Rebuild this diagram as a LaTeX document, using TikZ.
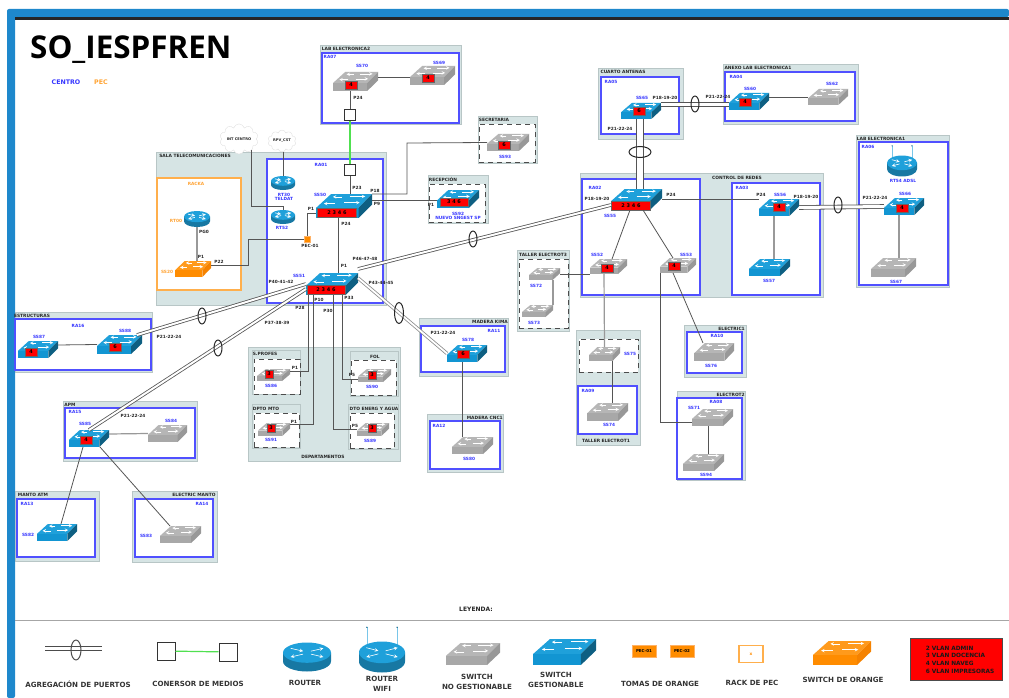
\documentclass[tikz,border=0pt]{standalone}
\usepackage{fontspec}
\setmainfont{DejaVu Sans}
\newfontfamily\titlefont{Open Sans}
\usepackage{tikz}
\usepackage{tkz-graph}
\usetikzlibrary{shapes,fit}
\definecolor{azulmarco}{HTML}{1E88CC}
\definecolor{zonafondo}{HTML}{D6E4E4}
\definecolor{zonaborde}{HTML}{B8C6C6}
\definecolor{rabord}{HTML}{5050FF}
\definecolor{azuleti}{HTML}{3535FF}
\definecolor{naranja}{HTML}{FF8C00}
\definecolor{cableg}{HTML}{555555}
\definecolor{verdemc}{HTML}{50E050}
\definecolor{swAtop}{HTML}{1FA0DA}
\definecolor{swAfront}{HTML}{1295D2}
\definecolor{swAside}{HTML}{0E5F82}
\definecolor{swGtop}{HTML}{B6B6B6}
\definecolor{swGfront}{HTML}{A8A8A8}
\definecolor{swGside}{HTML}{989898}
\definecolor{swOtop}{HTML}{FF9A1C}
\definecolor{swOfront}{HTML}{FF8C00}
\definecolor{swOside}{HTML}{F58200}
\tikzset{
  zona/.style={draw=zonaborde,fill=zonafondo,line width=.9pt,inner sep=0pt},
  rabox/.style={draw=rabord,fill=white,line width=1.3pt,inner sep=0pt},
  rackbox/.style={draw=naranja!70,fill=white,line width=1.2pt,inner sep=0pt},
  punteada/.style={draw=black!70,fill=white,line width=.9pt,dash pattern=on 5pt off 4pt,inner sep=0pt},
  zlab/.style={font=\fontsize{4.4}{5}\selectfont\bfseries,text=black!85,inner sep=0pt},
  eti/.style={font=\fontsize{4.3}{5}\selectfont\bfseries,text=azuleti,inner sep=0pt,align=center},
  etiO/.style={eti,text=naranja!80},
  pto/.style={font=\fontsize{4.3}{5}\selectfont\bfseries,text=black!85,inner sep=0pt},
  leg/.style={font=\fontsize{7.1}{10}\selectfont\bfseries,text=black!80,inner sep=0pt,align=center},
  vlan/.style={draw=black!60,fill=red,minimum width=12pt,minimum height=8.5pt,inner sep=0pt,
    font=\fontsize{5}{5}\selectfont\bfseries,text=black},
  swnode/.style={inner sep=0pt,outer sep=0pt},
  conv/.style={draw=black!80,fill=white,line width=1pt,minimum size=11pt,inner sep=0pt},
  ovalo/.style={ellipse,draw=black!85,line width=1pt,inner sep=0pt},
  nube/.style={cloud,cloud puffs=10,aspect=1.5,draw=black!12,fill=white,inner sep=0pt,
    font=\fontsize{3.6}{4}\selectfont\bfseries,text=black!85},
  pec/.style={draw=orange!60,fill=naranja,inner sep=0pt},
  linea/.style={draw=cableg,line width=.8pt},
  lineag/.style={draw=black!40,line width=1.2pt},
  lineav/.style={draw=verdemc,line width=1.2pt},
  trunk/.style={draw=cableg,line width=.8pt,double=white,double distance=2pt},
  trunkg/.style={trunk,double distance=1.8pt,draw=black!45},
  vh/.style={to path={|- (\tikztotarget)}},
  por/.style={to path={-- #1 -- (\tikztotarget)}},
}
\newcommand{\SwIcon}[6]{
  \pgfmathsetmacro{\swW}{(#4-#2)/100}
  \pgfmathsetmacro{\swH}{(#5-#3)/100}
  \begin{scope}[shift={(#2,#3)},x=\swW pt,y=-\swH pt]
    \fill[sw#6top] (0,58) -- (27,0) -- (100,0) -- (76,58) -- cycle;
    \fill[sw#6front] (0,58) rectangle (76,100);
    \fill[sw#6side] (76,58) -- (100,0) -- (100,44) -- (76,100) -- cycle;
    \draw[white,line width=.55pt,->,>=stealth] (46,12) -- (30,12);
    \draw[white,line width=.55pt,->,>=stealth] (60,10) -- (88,10);
    \draw[white,line width=.55pt,->,>=stealth] (34,40) -- (14,40);
    \draw[white,line width=.55pt,->,>=stealth] (50,36) -- (78,36);
  \end{scope}
  \node[swnode,fit={(#2,#3)(#4,#5)}] (#1) {};
}
\newcommand{\RtIcon}[6]{
  \pgfmathsetmacro{\rtW}{#4/100}
  \pgfmathsetmacro{\rtH}{#5/100}
  \begin{scope}[shift={(#2,#3)},x=\rtW pt,y=\rtH pt]
    \fill[#6!75!black] (-50,15) -- (-50,-15) arc[start angle=180,end angle=360,x radius=50,y radius=35] -- (50,15) -- cycle;
    \fill[#6] (0,15) ellipse[x radius=50,y radius=35];
    \draw[white,line width=.6pt,->,>=stealth] (-34,30) -- (-8,20);
    \draw[white,line width=.6pt,->,>=stealth] (8,10) -- (34,0);
    \draw[white,line width=.6pt,->,>=stealth] (8,20) -- (34,30);
    \draw[white,line width=.6pt,->,>=stealth] (-8,10) -- (-34,0);
  \end{scope}
  \node[swnode,minimum width=#4pt,minimum height=#5pt] (#1) at (#2,#3) {};
}
\newcommand{\Antenas}[4]{
  \pgfmathsetmacro{\rtW}{#3/100}
  \pgfmathsetmacro{\rtH}{#4/100}
  \begin{scope}[shift={(#1,#2)},x=\rtW pt,y=\rtH pt]
    \draw[swAtop!60,line width=.5pt] (-33,40) -- (-33,96);
    \draw[swAtop!60,line width=.5pt] (33,40) -- (33,96);
    \fill[swAside] (-33,96) circle (.7pt);
    \fill[swAside] (33,96) circle (.7pt);
  \end{scope}
}
\begin{document}
\begin{tikzpicture}[x=1pt,y=-1pt]
                \useasboundingbox (0,0) rectangle (1009,698);
                \GraphInit[vstyle=normal]
                \tikzset{EdgeStyle/.style={}}
                \fill[azulmarco,rounded corners=2pt] (7,698) -- (7,9) -- (1009,9) -- (1009,17) -- (15,17) -- (15,698) -- cycle;
                \fill[black!85] (15,17) rectangle (1009,20);
                \fill[black!35] (15,619.5) rectangle (1009,621);
                \node[font=\titlefont\fontsize{31.4}{31}\selectfont\bfseries,inner sep=0pt,anchor=west] (titulo) at (30,50) {SO\_IESPFREN};
                \node[eti,font=\fontsize{6.3}{7}\selectfont\bfseries] (centro) at (66,82) {CENTRO};
                \node[etiO,font=\fontsize{6.3}{7}\selectfont\bfseries] (pecs) at (101,82) {PEC};
                % zonas
                \node[zona,fit={(320,45)(461,124)}] (zlab2) {};
                \node[rabox,fit={(322,53)(459,123)}] (ra07) {};
                \node[zona,fit={(156,152)(386,305)}] (zsala) {};
                \node[rackbox,fit={(157,178)(241,290)}] (racka) {};
                \node[rabox,fit={(267,159)(383,303)}] (ra01) {};
                \node[zona,fit={(478,116)(537,163)}] (zsecre) {};
                \node[punteada,fit={(479,124)(535,162)}] (dsecre) {};
                \node[zona,fit={(428,175)(488,223)}] (zrecep) {};
                \node[punteada,fit={(429,184)(485,222)}] (drecep) {};
                \node[zona,fit={(598,68)(683,139)}] (zcuarto) {};
                \node[rabox,fit={(601,77)(679,134)}] (ra05) {};
                \node[zona,fit={(723,64)(858,124)}] (zanexo) {};
                \node[rabox,fit={(725,72)(855,121)}] (ra04) {};
                \node[zona,fit={(580,173)(823,297)}] (zcontrol) {};
                \node[rabox,fit={(582,179)(700,295)}] (ra02) {};
                \node[rabox,fit={(732,183)(820,295)}] (ra03) {};
                \node[zona,fit={(856,135)(949,287)}] (zlab1) {};
                \node[rabox,fit={(859,142)(948,285)}] (ra06) {};
                \node[zona,fit={(517,250)(569,331)}] (ztaller3) {};
                \node[punteada,fit={(519,259)(568,328)}] (dtaller3) {};
                \node[zona,fit={(576,330)(640,445)}] (ztaller1) {};
                \node[punteada,fit={(579,339)(638,372)}] (dtaller1) {};
                \node[rabox,fit={(578,386)(637,434)}] (ra09) {};
                \node[zona,fit={(684,325)(746,377)}] (zelec1) {};
                \node[rabox,fit={(687,332)(742,373)}] (ra10) {};
                \node[zona,fit={(677,391)(745,480)}] (zelec2) {};
                \node[rabox,fit={(677,398)(742,479)}] (ra08) {};
                \node[zona,fit={(15,312)(152,372)}] (zestruc) {};
                \node[rabox,fit={(15,319)(151,370)}] (ra16) {};
                \node[zona,fit={(63,401)(197,461)}] (zapm) {};
                \node[rabox,fit={(65,408)(195,458)}] (ra15) {};
                \node[zona,fit={(15,491)(99,561)}] (zmanto) {};
                \node[rabox,fit={(17,499)(95,557)}] (ra13) {};
                \node[zona,fit={(132,491)(217,562)}] (zelecm) {};
                \node[rabox,fit={(135,499)(213,557)}] (ra14) {};
                \node[zona,fit={(419,318)(508,376)}] (zkima) {};
                \node[rabox,fit={(421,326)(505,372)}] (ra11) {};
                \node[zona,fit={(427,414)(503,472)}] (zcnc) {};
                \node[rabox,fit={(430,421)(500,469)}] (ra12) {};
                \node[zona,fit={(248,347)(400,461)}] (zdepto) {};
                \node[zona,fit={(252,350)(300,394)}] (zprofes) {};
                \node[punteada,fit={(254,359)(300,394)}] (dprofes) {};
                \node[zona,fit={(252,404)(300,448)}] (zdpto) {};
                \node[punteada,fit={(254,413)(299,447)}] (ddpto) {};
                \node[zona,fit={(350,351)(398,396)}] (zfol) {};
                \node[punteada,fit={(351,360)(396,395)}] (dfol) {};
                \node[zona,fit={(348,404)(398,449)}] (zenerg) {};
                \node[punteada,fit={(350,413)(394,448)}] (denerg) {};
                % rotulos de zona
                \node[zlab] (tlab2) at (346,49) {LAB ELECTRONICA2};
                \node[zlab] (tsala) at (195,156) {SALA TELECOMUNICACIONES};
                \node[zlab] (tsecre) at (494,120) {SECRETARIA};
                \node[zlab] (trecep) at (443,179) {RECEPCIÓN};
                \node[zlab] (tcuarto) at (623,72) {CUARTO ANTENAS};
                \node[zlab] (tanexo) at (758,68) {ANEXO LAB ELECTRONICA1};
                \node[zlab] (tcontrol) at (737,178) {CONTROL DE REDES};
                \node[zlab] (tlab1) at (881,139) {LAB ELECTRONICA1};
                \node[zlab] (ttaller3) at (543,255) {TALLER ELECTROT3};
                \node[zlab] (ttaller1) at (606,441) {TALLER ELECTROT1};
                \node[zlab,anchor=east] (telec1) at (745,329) {ELECTRIC1};
                \node[zlab,anchor=east] (telec2) at (745,395) {ELECTROT2};
                \node[zlab] (testruc) at (32,316) {ESTRUCTURAS};
                \node[zlab] (tapm) at (70,405) {APM};
                \node[zlab] (tmanto) at (33,495) {MANTO ATM};
                \node[zlab] (telecm) at (194,495) {ELECTRIC MANTO};
                \node[zlab,anchor=east] (tkima) at (508,322) {MADERA KIMA};
                \node[zlab,anchor=east] (tcnc) at (503,418) {MADERA CNC1};
                \node[zlab] (tdepto) at (323,457) {DEPARTAMENTOS};
                \node[zlab] (tprofes) at (265,354) {S.PROFES};
                \node[zlab] (tdpto) at (266,409) {DPTO MTO};
                \node[zlab] (tfol) at (375,357) {FOL};
                \node[zlab] (tenerg) at (374,409) {DTO ENERG Y AGUA};
                % equipos
                \SwIcon{ss70}{333}{72}{378}{91}{G}
                \SwIcon{ss69}{410}{66}{455}{85}{G}
                \SwIcon{ss50}{316}{194}{372}{218}{A}
                \SwIcon{ss51}{306}{273}{358}{295}{A}
                \SwIcon{ss20}{175}{261}{211}{277}{O}
                \SwIcon{ss93}{487}{134}{529}{151}{G}
                \SwIcon{ss92}{437}{190}{479}{208}{A}
                \SwIcon{ss65}{621}{103}{661}{119}{A}
                \SwIcon{ss60}{729}{93}{769}{110}{A}
                \SwIcon{ss62}{808}{89}{848}{105}{G}
                \SwIcon{ss55}{611}{189}{662}{210}{A}
                \SwIcon{ss56}{759}{199}{799}{216}{A}
                \SwIcon{ss57}{749}{259}{790}{276}{A}
                \SwIcon{ss66}{884}{198}{924}{215}{A}
                \SwIcon{ss67}{871}{258}{916}{277}{G}
                \SwIcon{ss52}{590}{259}{627}{274}{G}
                \SwIcon{ss53}{660}{258}{696}{273}{G}
                \SwIcon{ss72}{529}{268}{560}{280}{G}
                \SwIcon{ss73}{522}{305}{553}{317}{G}
                \SwIcon{ss75}{589}{347}{620}{361}{G}
                \SwIcon{ss74}{587}{403}{628}{421}{G}
                \SwIcon{ss76}{694}{343}{734}{361}{G}
                \SwIcon{ss71}{692}{409}{733}{426}{G}
                \SwIcon{ss94}{683}{454}{724}{471}{G}
                \SwIcon{ss87}{18}{341}{58}{358}{A}
                \SwIcon{ss88}{97}{335}{142}{354}{A}
                \SwIcon{ss85}{69}{430}{109}{447}{A}
                \SwIcon{ss84}{148}{425}{187}{442}{G}
                \SwIcon{ss82}{37}{524}{77}{541}{A}
                \SwIcon{ss83}{160}{526}{201}{543}{G}
                \SwIcon{ss78}{447}{345}{487}{362}{A}
                \SwIcon{ss80}{452}{437}{493}{454}{G}
                \SwIcon{ss86}{257}{369}{290}{381}{G}
                \SwIcon{ss91}{258}{423}{290}{436}{G}
                \SwIcon{ss90}{358}{369}{391}{382}{G}
                \SwIcon{ss89}{357}{423}{389}{436}{G}
                \RtIcon{rt30}{283}{183}{24}{14}{swAtop}
                \RtIcon{rt52}{283}{217}{24}{14}{swAtop}
                \RtIcon{rt00}{197}{219}{26}{16}{swAtop}
                \Antenas{902}{166}{30}{21}
                \RtIcon{rt54}{902}{166}{30}{21}{swAtop}
                \node[nube,minimum width=32pt,minimum height=24pt] (intc) at (239,139) {INT CENTRO};
                \node[nube,minimum width=28pt,minimum height=20pt] (rpv) at (282,141) {RPV\_CST};
                \node[conv] (cv1) at (350,115) {};
                \node[conv] (cv2) at (350,170) {};
                \node[pec,minimum size=6.5pt] (pec1) at (307,239) {};
                % pastillas de vlan
                \node[vlan] (v70) at (351,85) {4};
                \node[vlan] (v69) at (428,78) {4};
                \node[vlan,minimum width=39pt,minimum height=9pt] (v50) at (337,212.5) {2 3 4 6};
                \node[vlan,minimum width=38pt,minimum height=9pt] (v51) at (326,289.5) {2 3 4 6};
                \node[vlan] (v93) at (504,145) {6};
                \node[vlan,minimum width=28pt] (v92) at (454,202) {3 4 6};
                \node[vlan] (v65) at (639,111) {6};
                \node[vlan] (v60) at (745,102) {4};
                \node[vlan,minimum width=39pt,minimum height=9pt] (v55) at (631,205.5) {2 3 4 6};
                \node[vlan] (v56) at (779,207) {4};
                \node[vlan] (v66) at (902,208) {4};
                \node[vlan] (v52) at (607,268) {4};
                \node[vlan] (v53) at (674,266) {4};
                \node[vlan] (v87) at (31,352) {4};
                \node[vlan] (v88) at (115,347) {6};
                \node[vlan] (v85) at (86,440) {4};
                \node[vlan] (v78) at (463,354) {6};
                \node[vlan,minimum width=8pt] (v86) at (269,374) {3};
                \node[vlan,minimum width=8pt] (v91) at (271,428) {3};
                \node[vlan,minimum width=8pt] (v90) at (372,375) {3};
                \node[vlan,minimum width=8pt] (v89) at (372,428) {3};
                % nombres
                \node[eti] (lra07) at (330,57) {RA07};
                \node[eti] (l70) at (362,66) {SS70};
                \node[eti] (l69) at (439,63) {SS69};
                \node[eti] (lra01) at (321,165) {RA01};
                \node[etiO] (lracka) at (196,184) {RACKA};
                \node[etiO] (lrt00) at (176,221) {RT00};
                \node[etiO] (l20) at (167,272) {SS20};
                \node[eti] (lrt30) at (284,197) {RT30\\[-.4pt]TELDAT};
                \node[eti] (lrt52) at (282,228) {RT52};
                \node[eti] (l50) at (320,195) {SS50};
                \node[eti] (l51) at (299,276) {SS51};
                \node[eti] (l93) at (505,157) {SS93};
                \node[eti] (l92) at (458,216) {SS92\\[-.4pt]NUEVO SNGEST SP};
                \node[eti] (lra05) at (611,82) {RA05};
                \node[eti] (l65) at (642,98) {SS65};
                \node[eti] (lra04) at (736,77) {RA04};
                \node[eti] (l60) at (750,89) {SS60};
                \node[eti] (l62) at (832,84) {SS62};
                \node[eti] (lra02) at (595,188) {RA02};
                \node[eti] (l55) at (610,216) {SS55};
                \node[eti] (lra03) at (742,188) {RA03};
                \node[eti] (l56) at (780,195) {SS56};
                \node[eti] (l57) at (769,281) {SS57};
                \node[eti] (lra06) at (868,147) {RA06};
                \node[eti] (lrt54) at (903,181) {RT54 ADSL};
                \node[eti] (l66) at (905,194) {SS66};
                \node[eti] (l67) at (896,282) {SS67};
                \node[eti] (l52) at (597,255) {SS52};
                \node[eti] (l53) at (686,255) {SS53};
                \node[eti] (l72) at (536,286) {SS72};
                \node[eti] (l73) at (534,323) {SS73};
                \node[eti] (l75) at (630,354) {SS75};
                \node[eti] (lra09) at (588,391) {RA09};
                \node[eti] (l74) at (609,425) {SS74};
                \node[eti] (lra10) at (717,336) {RA10};
                \node[eti] (l76) at (711,366) {SS76};
                \node[eti] (lra08) at (716,402) {RA08};
                \node[eti] (l71) at (694,408) {SS71};
                \node[eti] (l94) at (706,475) {SS94};
                \node[eti] (lra16) at (78,326) {RA16};
                \node[eti] (l87) at (39,337) {SS87};
                \node[eti] (l88) at (125,331) {SS88};
                \node[eti] (lra15) at (75,412) {RA15};
                \node[eti] (l85) at (85,424) {SS85};
                \node[eti] (l84) at (171,421) {SS84};
                \node[eti] (lra13) at (27,504) {RA13};
                \node[eti] (l82) at (28,535) {SS82};
                \node[eti] (lra14) at (202,504) {RA14};
                \node[eti] (l83) at (146,536) {SS83};
                \node[eti] (lra11) at (494,331) {RA11};
                \node[eti] (l78) at (468,340) {SS78};
                \node[eti] (lra12) at (439,426) {RA12};
                \node[eti] (l80) at (469,459) {SS80};
                \node[eti] (l86) at (271,386) {SS86};
                \node[eti] (l91) at (271,440) {SS91};
                \node[eti] (l90) at (372,387) {SS90};
                \node[eti] (l89) at (370,441) {SS89};
                % puertos
                \node[pto] (pa) at (358,98) {P24};
                \node[pto] (pb) at (357,188) {P23};
                \node[pto] (pc) at (375,191) {P18};
                \node[pto] (pd) at (377,204) {P9};
                \node[pto] (pe) at (311,209) {P1};
                \node[pto] (pf) at (346,224) {P24};
                \node[pto] (pg) at (344,266) {P1};
                \node[pto] (ph) at (204,232) {PG0};
                \node[pto] (pi) at (201,257) {P1};
                \node[pto] (pj) at (219,262) {P22};
                \node[pto] (pk) at (310,246) {PEC-01};
                \node[pto] (pl) at (365,259) {P46-47-48};
                \node[pto] (pm) at (281,282) {P40-41-42};
                \node[pto] (pn) at (381,283) {P43-44-45};
                \node[pto] (po) at (319,300) {P10};
                \node[pto] (pp) at (349,298) {P33};
                \node[pto] (pq) at (300,308) {P28};
                \node[pto] (pr) at (328,311) {P30};
                \node[pto] (ps) at (277,323) {P37-38-39};
                \node[pto] (pt) at (431,205) {P1};
                \node[pto] (pu) at (665,98) {P18-19-20};
                \node[pto] (pv) at (620,129) {P21-22-24};
                \node[pto] (pw) at (718,97) {P21-22-24};
                \node[pto] (px) at (597,199) {P18-19-20};
                \node[pto] (py) at (671,195) {P24};
                \node[pto] (pz) at (761,195) {P24};
                \node[pto] (qa) at (806,197) {P18-19-20};
                \node[pto] (qb) at (875,198) {P21-22-24};
                \node[pto] (qc) at (169,337) {P21-22-24};
                \node[pto] (qd) at (133,416) {P21-22-24};
                \node[pto] (qe) at (443,333) {P21-22-24};
                \node[pto] (qf) at (295,368) {P1};
                \node[pto] (qg) at (294,422) {P1};
                \node[pto] (qh) at (352,375) {P5};
                \node[pto] (qi) at (355,426) {P5};
                % conexiones
                \coordinate (codoA) at (251,206);
                \coordinate (codoB) at (283,206);
                \coordinate (codoC) at (248,265);
                \coordinate (codoD) at (248,239);
                \coordinate (codoE) at (307,213);
                \coordinate (codoF) at (407,194);
                \coordinate (codoG) at (407,143);
                \Edge[style={linea}]([yshift=4.5pt]ss70.east)([yshift=-1.5pt]ss69.west)
                \Edge[style={linea}]([xshift=-5.5pt]ss70.south)(cv1.north)
                \Edge[style={lineav}](cv1.south)(cv2.north)
                \Edge[style={linea}](cv2.south)([xshift=6pt]ss50.north)
                \Edge[style={linea}]([xshift=-6pt]ss50.south)([xshift=6pt]ss51.north)
                \Edge[style={linea}]([xshift=1pt]rpv.south)(rt30.north)
                \Edge[style={linea,por={(codoA) -- (codoB)}}]([xshift=12pt,yshift=4pt]intc.south)(rt52.north)
                \Edge[style={lineag}](rt00.south)([xshift=4pt]ss20.north)
                \Edge[style={linea,por={(codoC) -- (codoD)}}]([yshift=4pt]ss20.east)(pec1.west)
                \Edge[style={linea,por={(codoE)}}](pec1.north)([yshift=-7pt]ss50.west)
                \Edge[style={linea,por={(codoF) -- (codoG)}}](ss50.north east)(ss93.west)
                \Edge[style={linea}]([yshift=6pt]ss50.east)([yshift=-1pt]ss92.west)
                \Edge[style={trunk}]([yshift=4pt]ss51.north east)([yshift=-5.5pt]ss55.west)
                \Edge[style={trunk}](ss51.west)([xshift=-5pt]ss88.north east)
                \Edge[style={trunk}]([yshift=-5pt]ss51.west)(ss85.north)
                \Edge[style={trunkg}]([yshift=-5pt]ss51.north east)(ss78.west)
                \Edge[style={linea,vh}]([xshift=-24pt]ss51.south)([yshift=4pt]ss86.east)
                \Edge[style={linea,vh}]([xshift=-19pt]ss51.south)([yshift=5pt]ss91.east)
                \Edge[style={linea,vh}]([xshift=1pt]ss51.south)(ss89.west)
                \Edge[style={linea,vh}]([xshift=10pt]ss51.south)([yshift=-3.5pt]ss90.west)
                \Edge[style={trunk,double distance=5.5pt}]([xshift=-1pt]ss65.south)([xshift=3.5pt]ss55.north)
                \Edge[style={trunk,double distance=3.5pt}]([yshift=6.5pt]ss65.east)([yshift=-3pt]ss60.west)
                \Edge[style={linea}]([yshift=4.5pt]ss60.east)(ss62.west)
                \Edge[style={linea}](ss55.east)([yshift=8pt]ss56.west)
                \Edge[style={trunk,double distance=3pt}](ss56.east)(ss66.west)
                \Edge[style={lineag}]([xshift=-5pt]ss56.south)([xshift=4.5pt]ss57.north)
                \Edge[style={lineag}]([xshift=-5pt]ss66.south)([xshift=5.5pt]ss67.north)
                \Edge[style={linea}]([xshift=-6.5pt]ss55.south)([xshift=3.5pt]ss52.north)
                \Edge[style={linea}]([xshift=6.5pt]ss55.south)([xshift=-5pt]ss53.north)
                \Edge[style={linea}](ss72.east)([yshift=-7.5pt]ss52.west)
                \Edge[style={lineag}]([xshift=8.5pt]ss72.south)([xshift=15.5pt]ss73.north)
                \Edge[style={lineag}]([xshift=-4.5pt]ss52.south)(ss75.north)
                \Edge[style={linea}]([xshift=7.5pt]ss75.south)([xshift=4.5pt]ss74.north)
                \Edge[style={linea}]([xshift=-5pt]ss53.south)([xshift=-11pt]ss76.north)
                \Edge[style={linea,vh}](ss53.south west)([yshift=-4.5pt]ss71.west)
                \Edge[style={linea}]([xshift=-4.5pt]ss71.south)([xshift=4.5pt]ss94.north)
                \Edge[style={linea}]([xshift=-5pt]ss78.south)([xshift=-10.5pt]ss80.north)
                \Edge[style={linea}]([yshift=4.5pt]ss87.east)(ss88.west)
                \Edge[style={lineag}]([yshift=4.5pt]ss85.east)(ss84.west)
                \Edge[style={linea}]([xshift=-6pt]ss85.south)([xshift=4pt]ss82.north)
                \Edge[style={linea}]([xshift=11pt]ss85.south)([xshift=-10.5pt]ss83.north)
                % agregaciones
                \node[ovalo,minimum width=8pt,minimum height=16pt] (ag1) at (473,239) {};
                \node[ovalo,minimum width=8pt,minimum height=16pt] (ag2) at (202,316) {};
                \node[ovalo,minimum width=8pt,minimum height=16pt] (ag3) at (218,348) {};
                \node[ovalo,minimum width=9pt,minimum height=21pt] (ag4) at (399,313) {};
                \node[ovalo,minimum width=22pt,minimum height=11pt] (ag5) at (640,152) {};
                \node[ovalo,minimum width=8pt,minimum height=16pt] (ag6) at (695,104) {};
                \node[ovalo,minimum width=8pt,minimum height=16pt] (ag7) at (838,205) {};
                % leyenda
                \node[pto,font=\fontsize{6}{7}\selectfont\bfseries] (tley) at (476,609) {LEYENDA:};
                \coordinate (lgA) at (45,648.5);
                \coordinate (lgB) at (102,648.5);
                \Edge[style={trunk,draw=black!70,line width=.8pt,double distance=3.5pt}](lgA)(lgB)
                \node[ovalo,draw=black!70,minimum width=10pt,minimum height=20pt] (lgO) at (76,650) {};
                \node[leg] (tlg1) at (78,684) {AGREGACIÓN DE PUERTOS};
                \node[conv,minimum size=18pt] (lgC) at (166,651) {};
                \node[conv,minimum size=18pt] (lgD) at (228,652) {};
                \Edge[style={lineav}](lgC)(lgD)
                \node[leg] (tlg2) at (198,684) {CONERSOR DE MEDIOS};
                \RtIcon{lgR}{307}{657}{48}{29}{swAtop}
                \node[leg] (tlg3) at (305,683) {ROUTER};
                \Antenas{382}{657}{46}{31}
                \RtIcon{lgW}{382}{657}{46}{31}{swAtop}
                \node[leg] (tlg4) at (382,684) {ROUTER\\WIFI};
                \SwIcon{lgS}{446}{643}{500}{665}{G}
                \node[leg] (tlg5) at (477,682) {SWITCH\\NO GESTIONABLE};
                \SwIcon{lgG}{533}{639}{596}{665}{A}
                \node[leg] (tlg6) at (556,680) {SWITCH\\GESTIONABLE};
                \node[pec,minimum width=24pt,minimum height=12pt,text=black,font=\fontsize{4}{5}\selectfont\bfseries] (lgP) at (644,651) {PEC-01};
                \node[pec,minimum width=24pt,minimum height=12pt,text=black,font=\fontsize{4}{5}\selectfont\bfseries] (lgQ) at (682,651) {PEC-02};
                \node[leg] (tlg7) at (660,684) {TOMAS DE ORANGE};
                \node[rackbox,minimum width=24pt,minimum height=17pt,text=naranja,font=\fontsize{4.3}{5}\selectfont\bfseries] (lgK) at (751,654) {x};
                \node[leg] (tlg8) at (752,683) {RACK DE PEC};
                \SwIcon{lgO2}{813}{641}{871}{665}{O}
                \node[leg] (tlg9) at (843,680) {SWITCH DE ORANGE};
                \node[draw=black!70,fill=red,minimum width=92pt,minimum height=42pt,inner sep=0pt] (lgV) at (956,659) {};
                \node[inner sep=0pt,align=left,text=black!90,font=\fontsize{5.8}{7.7}\selectfont\bfseries] (tlgV) at (960,659.5) {2 VLAN ADMIN\\3 VLAN DOCENCIA\\4 VLAN NAVEG\\6 VLAN IMPRESORAS};
            \end{tikzpicture}
\end{document}
